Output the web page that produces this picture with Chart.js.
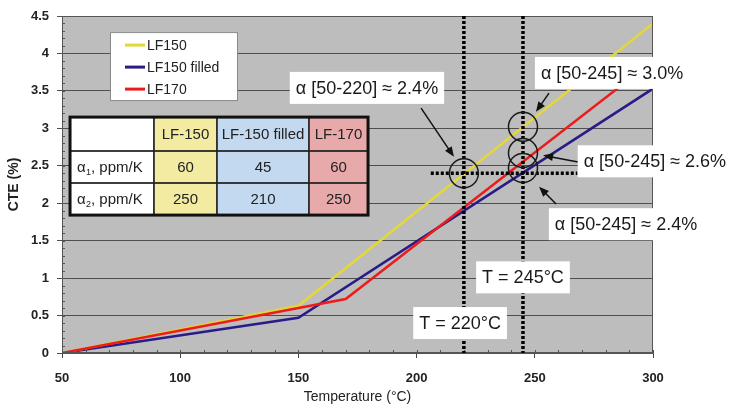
<!DOCTYPE html>
<html>
<head>
<meta charset="utf-8">
<script src="https://cdn.jsdelivr.net/npm/chart.js@4.4.0/dist/chart.umd.min.js"></script>
<style>
  body { margin: 0; background: #fff; }
  canvas { display: block; }
</style>
</head>
<body>
<canvas id="cte" width="732" height="407"></canvas>
<script>
// CTE curves, temperature in °C, CTE in %
var lf150Temp = [50, 150, 300];
var lf150Cte = [0, 0.63, 4.4];
var filledTemp = [50, 150, 300];
var filledCte = [0, 0.47, 3.53];
var lf170Temp = [50, 150, 170, 300];
var lf170Cte = [0, 0.6, 0.72, 3.9];
var seriesNames = ['LF150', 'LF150 filled', 'LF170'];

// table inside the plot
var tableHead = ['LF-150', 'LF-150 filled', 'LF-170'];
var alpha1 = ['60', '45', '60'];
var alpha2 = ['250', '210', '250'];

// marked temperatures and readings
var markTemps = [220, 245];
var markLevel = 2.4;
var circleTemp = [220, 245, 245, 245];
var circleCte = [2.4, 3.02, 2.67, 2.47];
var noteText = ['α [50-220] ≈ 2.4%', 'α [50-245] ≈ 3.0%', 'α [50-245] ≈ 2.6%', 'α [50-245] ≈ 2.4%', 'T = 245°C', 'T = 220°C'];

var FONT = '"Liberation Sans", Arial, sans-serif';

// where the notes/arrows sit (in axis units)
var notePos = [[179, 3.54], [282.7, 3.74], [300.8, 2.56], [288.6, 1.72], [245, 1.01], [218.4, 0.40]];
var arrowPos = [
  [201.9, 3.27, 215.8, 2.62],
  [256, 3.47, 250.5, 3.22],
  [268.3, 2.55, 253.5, 2.64],
  [259, 1.99, 251.8, 2.22]
];
var legendPos = [70.3, 4.285];
var tablePos = [53.4, 3.15];
var colW = [84, 63, 92, 59];
var rowH = [34, 32, 32];
var colFill = ['#ffffff', '#f3eba2', '#c3d9ef', '#e8a9aa'];

function pts(t, v) {
  return t.map(function (x, i) { return { x: x, y: v[i] }; });
}

function arrow(ctx, x1, y1, x2, y2) {
  var a = Math.atan2(y2 - y1, x2 - x1);
  ctx.beginPath();
  ctx.moveTo(x1, y1);
  ctx.lineTo(x2 - 6 * Math.cos(a), y2 - 6 * Math.sin(a));
  ctx.stroke();
  ctx.beginPath();
  ctx.moveTo(x2, y2);
  ctx.lineTo(x2 - 10 * Math.cos(a) + 4 * Math.sin(a), y2 - 10 * Math.sin(a) - 4 * Math.cos(a));
  ctx.lineTo(x2 - 10 * Math.cos(a) - 4 * Math.sin(a), y2 - 10 * Math.sin(a) + 4 * Math.cos(a));
  ctx.closePath();
  ctx.fill();
}

var plotBg = {
  id: 'plotBg',
  beforeDraw: function (chart) {
    var a = chart.chartArea, ctx = chart.ctx;
    ctx.save();
    ctx.fillStyle = '#bdbdbd';
    ctx.fillRect(a.left, a.top, a.right - a.left, a.bottom - a.top);
    ctx.restore();
  }
};

var overlay = {
  id: 'overlay',
  afterDatasetsDraw: function (chart) {
    var ctx = chart.ctx, a = chart.chartArea;
    var sx = chart.scales.x, sy = chart.scales.y;
    var X = function (v) { return sx.getPixelForValue(v); };
    var Y = function (v) { return sy.getPixelForValue(v); };
    ctx.save();

    // frame and minor ticks
    ctx.strokeStyle = '#555';
    ctx.lineWidth = 1;
    ctx.strokeRect(a.left + 0.5, a.top + 0.5, a.right - a.left - 1, a.bottom - a.top - 1);
    ctx.beginPath();
    for (var t = 50; t <= 300; t += 10) {
      ctx.moveTo(Math.round(X(t)) + 0.5, a.bottom);
      ctx.lineTo(Math.round(X(t)) + 0.5, a.bottom - 3);
    }
    for (var c = 0; c <= 45; c++) {
      ctx.moveTo(a.left, Math.round(Y(c / 10)) + 0.5);
      ctx.lineTo(a.left + 3, Math.round(Y(c / 10)) + 0.5);
    }
    ctx.stroke();

    // legend
    var lx = X(legendPos[0]), ly = Y(legendPos[1]);
    ctx.fillStyle = '#fff';
    ctx.fillRect(lx, ly, 127, 68);
    ctx.strokeStyle = '#8a8a8a';
    ctx.strokeRect(lx + 0.5, ly + 0.5, 127, 68);
    ctx.font = '14px ' + FONT;
    ctx.textBaseline = 'middle';
    ctx.textAlign = 'left';
    chart.data.datasets.forEach(function (ds, i) {
      var yy = ly + 13 + i * 22;
      ctx.strokeStyle = ds.borderColor;
      ctx.lineWidth = 3;
      ctx.beginPath();
      ctx.moveTo(lx + 15, yy);
      ctx.lineTo(lx + 35, yy);
      ctx.stroke();
      ctx.fillStyle = '#222';
      ctx.fillText(seriesNames[i], lx + 37, yy + 1);
    });

    // table
    var tx = X(tablePos[0]), ty = Y(tablePos[1]);
    var rows = [[''].concat(tableHead), ['a1'].concat(alpha1), ['a2'].concat(alpha2)];
    var yy0 = ty;
    ctx.font = '15px ' + FONT;
    ctx.textAlign = 'center';
    for (var r = 0; r < rows.length; r++) {
      var xx0 = tx;
      for (var k = 0; k < colW.length; k++) {
        ctx.fillStyle = colFill[k];
        ctx.fillRect(xx0, yy0, colW[k], rowH[r]);
        ctx.strokeStyle = '#222';
        ctx.lineWidth = 1.5;
        ctx.strokeRect(xx0, yy0, colW[k], rowH[r]);
        ctx.fillStyle = '#222';
        var cell = rows[r][k];
        var cy = yy0 + rowH[r] / 2 + 1;
        if (cell === 'a1' || cell === 'a2') {
          ctx.textAlign = 'left';
          ctx.font = '15px ' + FONT;
          ctx.fillText('α', xx0 + 7, cy);
          ctx.font = '9px ' + FONT;
          ctx.fillText(cell.charAt(1), xx0 + 16, cy + 4);
          ctx.font = '15px ' + FONT;
          ctx.fillText(', ppm/K', xx0 + 21, cy);
          ctx.textAlign = 'center';
        } else {
          ctx.fillText(cell, xx0 + colW[k] / 2, cy);
        }
        xx0 += colW[k];
      }
      yy0 += rowH[r];
    }
    var tw = colW.reduce(function (s, v) { return s + v; }, 0);
    var th = rowH.reduce(function (s, v) { return s + v; }, 0);
    ctx.lineWidth = 3;
    ctx.strokeStyle = '#111';
    ctx.strokeRect(tx, ty, tw, th);

    // dotted marker lines
    ctx.strokeStyle = '#000';
    ctx.lineWidth = 3.5;
    ctx.setLineDash([3, 2]);
    markTemps.forEach(function (t) {
      ctx.beginPath();
      ctx.moveTo(X(t), a.top);
      ctx.lineTo(X(t), a.bottom);
      ctx.stroke();
    });
    ctx.beginPath();
    ctx.moveTo(X(206), Y(markLevel));
    ctx.lineTo(X(268), Y(markLevel));
    ctx.stroke();
    ctx.setLineDash([]);

    // circles
    ctx.strokeStyle = '#1a1a1a';
    ctx.lineWidth = 1.5;
    circleTemp.forEach(function (t, i) {
      ctx.beginPath();
      ctx.arc(X(t), Y(circleCte[i]), 14.5, 0, Math.PI * 2);
      ctx.stroke();
    });

    // arrows
    ctx.fillStyle = '#111';
    ctx.strokeStyle = '#111';
    ctx.lineWidth = 1.5;
    arrowPos.forEach(function (p) {
      arrow(ctx, X(p[0]), Y(p[1]), X(p[2]), Y(p[3]));
    });

    // notes
    ctx.font = '18px ' + FONT;
    ctx.textAlign = 'center';
    ctx.textBaseline = 'middle';
    noteText.forEach(function (s, i) {
      var cx = X(notePos[i][0]), cy = Y(notePos[i][1]);
      var w = ctx.measureText(s).width + 12;
      ctx.fillStyle = '#fff';
      ctx.fillRect(cx - w / 2, cy - 16, w, 32);
      ctx.fillStyle = '#1a1a1a';
      ctx.fillText(s, cx, cy + 1);
    });

    ctx.restore();
  }
};

var tickFont = { family: FONT, size: 13, weight: 'bold' };

new Chart(document.getElementById('cte'), {
  type: 'line',
  data: {
    datasets: [
      { label: seriesNames[0], data: pts(lf150Temp, lf150Cte), borderColor: '#e2d83a', borderWidth: 2.5, order: 1 },
      { label: seriesNames[1], data: pts(filledTemp, filledCte), borderColor: '#2a1c86', borderWidth: 2.5, order: 2 },
      { label: seriesNames[2], data: pts(lf170Temp, lf170Cte), borderColor: '#ec1c1c', borderWidth: 2.5, order: 0 }
    ]
  },
  options: {
    responsive: false,
    animation: false,
    layout: { padding: { top: 16, right: 79, left: 0, bottom: 0 } },
    elements: { point: { radius: 0 }, line: { tension: 0 } },
    plugins: { legend: { display: false }, tooltip: { enabled: false } },
    scales: {
      x: {
        type: 'linear', min: 50, max: 300,
        ticks: { stepSize: 50, color: '#222', font: tickFont, padding: 13 },
        grid: { drawOnChartArea: false, tickLength: 5, color: '#444' },
        border: { color: '#555' },
        title: { display: true, text: 'Temperature (°C)', color: '#222', font: { family: FONT, size: 14 }, padding: { top: 0, bottom: 1 } },
        afterFit: function (s) { s.height = 54; }
      },
      y: {
        min: 0, max: 4.5,
        ticks: {
          stepSize: 0.5, color: '#222', font: tickFont, padding: 8,
          callback: function (v) { return String(Math.round(v * 10) / 10); }
        },
        grid: { color: '#4f4f4f', tickLength: 5 },
        border: { color: '#555' },
        title: { display: true, text: 'CTE (%)', color: '#222', font: { family: FONT, size: 14, weight: 'bold' }, padding: { top: 6, bottom: 0 } },
        afterFit: function (s) { s.width = 62; }
      }
    }
  },
  plugins: [plotBg, overlay]
});
</script>
</body>
</html>
